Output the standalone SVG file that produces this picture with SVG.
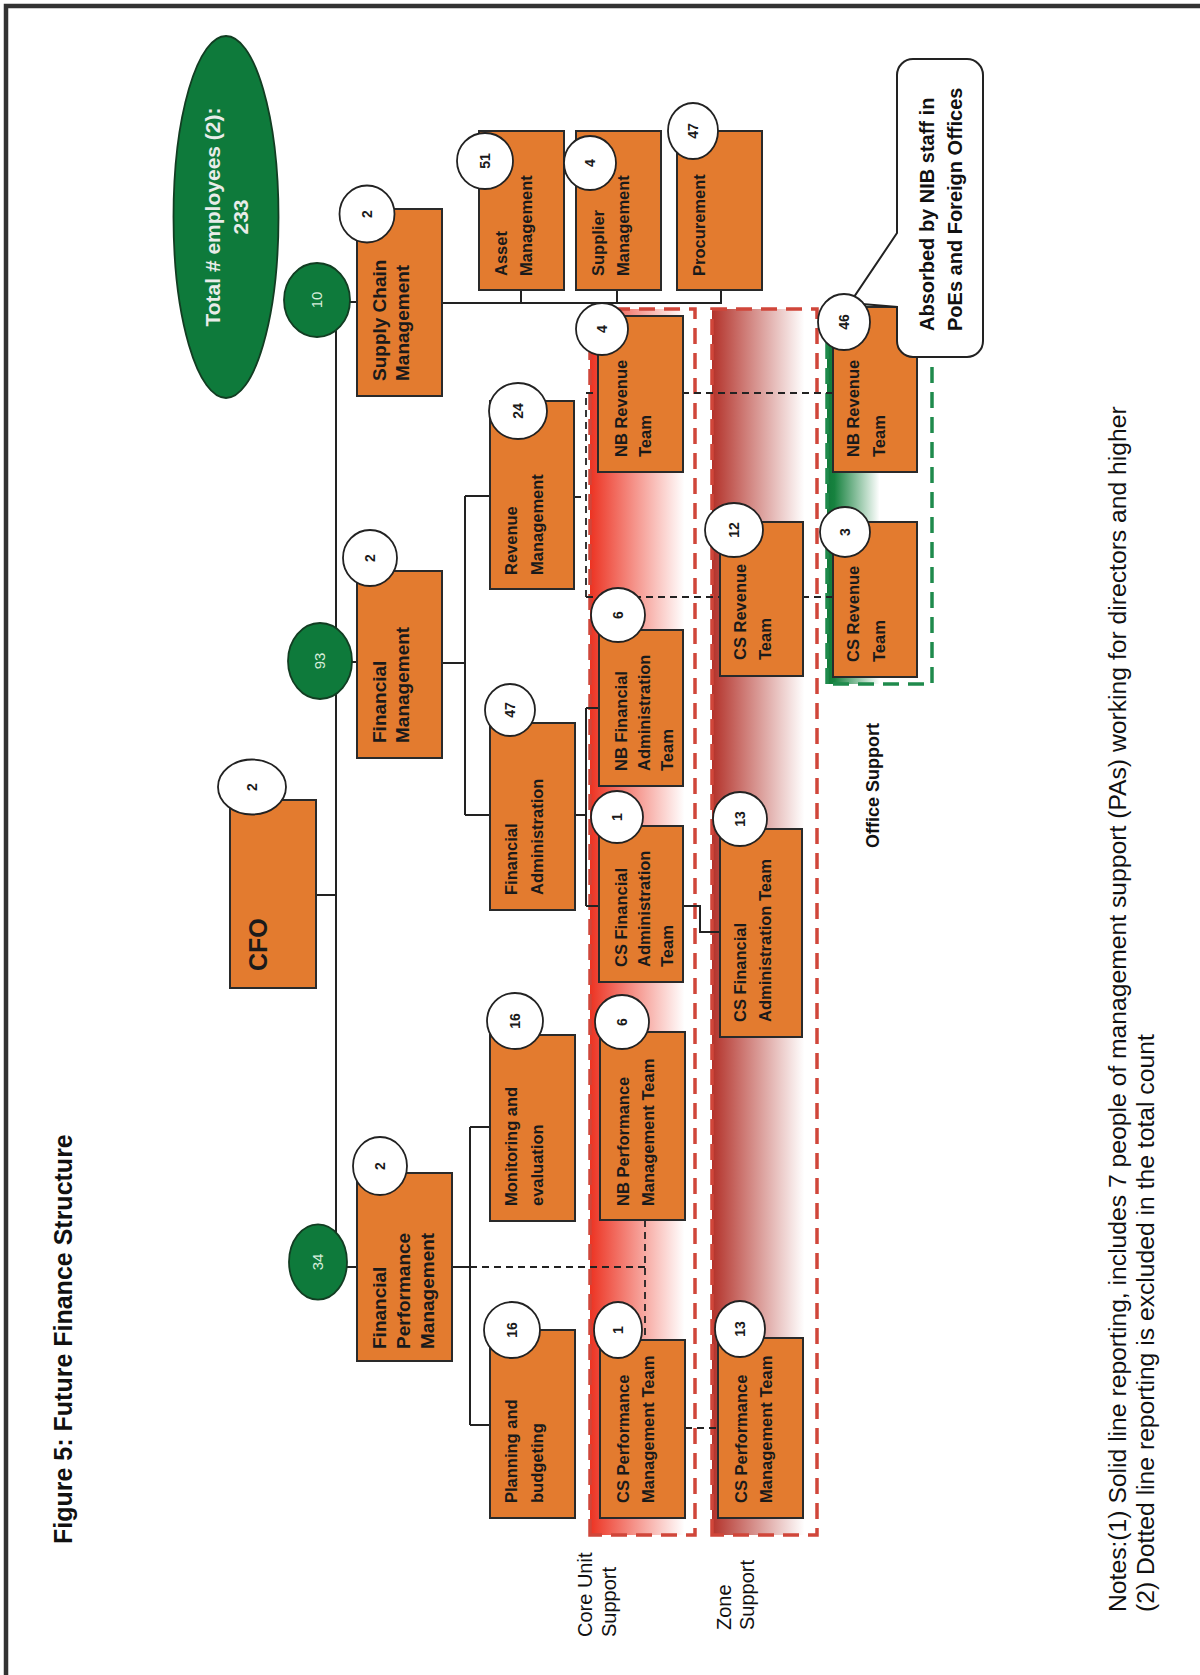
<svg xmlns="http://www.w3.org/2000/svg" width="1200" height="1675" viewBox="0 0 1200 1675">
<defs>
<style>
.bx{fill:#E37B2F;stroke:#2a2a2a;stroke-width:2}
.c{fill:#fff;stroke:#222;stroke-width:1.8}
.g{fill:#0E7A3B;stroke:#123d22;stroke-width:1.8}
.ln{stroke:#222;stroke-width:2;fill:none}
.dl{stroke:#222;stroke-width:1.8;fill:none;stroke-dasharray:7 5}
.t{font-family:"Liberation Sans",Arial,sans-serif;font-weight:bold;font-size:16.5px;fill:#1a1a1a}
.d{font-family:"Liberation Sans",Arial,sans-serif;font-weight:bold;font-size:19px;fill:#1a1a1a}
.n{font-family:"Liberation Sans",Arial,sans-serif;font-weight:bold;font-size:14px;fill:#1a1a1a;text-anchor:middle}
.gn{font-family:"Liberation Sans",Arial,sans-serif;font-size:15px;fill:#d8eedc;text-anchor:middle}
.lb{font-family:"Liberation Sans",Arial,sans-serif;font-size:20px;fill:#111}
.bandR{stroke:#d0463a;stroke-width:3.5;stroke-dasharray:16 9}
.bandG{stroke:#1f8a4c;stroke-width:3.5;stroke-dasharray:16 9}
</style>
<linearGradient id="gCore" x1="0" y1="0" x2="0" y2="1">
<stop offset="0" stop-color="#ec3322"/>
<stop offset="0.9" stop-color="#ffffff"/>
</linearGradient>
<linearGradient id="gZone" x1="0" y1="0" x2="0" y2="1">
<stop offset="0" stop-color="#b3322a"/>
<stop offset="0.88" stop-color="#ffffff"/>
</linearGradient>
<linearGradient id="gOff" x1="0" y1="0" x2="0" y2="1">
<stop offset="0" stop-color="#127a3a"/>
<stop offset="0.07" stop-color="#17823f"/>
<stop offset="0.5" stop-color="#ffffff"/>
</linearGradient>
</defs>
<rect width="1200" height="1675" fill="#fff"/>
<path d="M6 1675 V6 H1200" stroke="#333" stroke-width="4.5" fill="none"/>
<g transform="translate(0,1675) rotate(-90)">
<text x="131" y="72" font-family="Liberation Sans, Arial, sans-serif" font-weight="bold" font-size="25" fill="#111">Figure 5: Future Finance Structure</text>
<g id="bands">
<rect id="core-band" class="bandR" x="140" y="590" width="1226" height="105" fill="url(#gCore)"/>
<rect id="zone-band" class="bandR" x="140" y="712" width="1226" height="105" fill="url(#gZone)"/>
<rect id="office-band" class="bandG" x="991" y="827" width="381" height="105" fill="url(#gOff)"/>
</g>
<g id="connectors">
<path class="ln" d="M413 336 H1375 M780 316 V336 M1373 336 V357 M1013 336 V357 M408 336 V357"/>
<path class="ln" d="M1372 442 V722 M1372 521 H1385 M1372 617 H1385 M1372 721 H1385"/>
<path class="ln" d="M1012 442 V465 M860 465 H1179 M1179 465 V490 M860 465 V490"/>
<path class="ln" d="M408 452 V470 M250 470 H548 M548 470 V490 M250 470 V490"/>
<path class="ln" d="M860 575 V586 M769 586 H967 M967 586 V599 M769 586 V599"/>
<path class="ln" d="M769 683 V700 H743 V720"/>
<path class="dl" d="M408 470 V645 M340 645 H455"/>
<path class="dl" d="M1178 574 V586 M1078 586 H1282 M1282 586 V833 M1078 586 V833"/>
<path class="dl" d="M247 685 V718"/>
</g>
<g id="total">
<ellipse cx="1458" cy="226" rx="181" ry="52.5" class="g"/>
<text x="1458" y="220" text-anchor="middle" font-family="Liberation Sans, Arial, sans-serif" font-weight="bold" font-size="21" fill="#e9ece9">Total # employees (2):</text>
<text x="1458" y="248" text-anchor="middle" font-family="Liberation Sans, Arial, sans-serif" font-weight="bold" font-size="21" fill="#e9ece9">233</text>
</g>
<g id="cfo">
<rect class="bx" x="687" y="230" width="188" height="86"/>
<text x="704" y="267" font-family="Liberation Sans, Arial, sans-serif" font-weight="bold" font-size="25" fill="#1a1a1a">CFO</text>
<ellipse class="c" cx="888" cy="252" rx="27.5" ry="34"/>
<text class="n" x="888" y="257">2</text>
</g>
<g id="scm">
<rect class="bx" x="1279" y="357" width="187" height="85"/>
<text class="d" x="1294" y="386">Supply Chain</text>
<text class="d" x="1294" y="409">Management</text>
<ellipse class="c" cx="1461" cy="367" rx="28.5" ry="27.5"/>
<text class="n" x="1461" y="372">2</text>
<ellipse class="g" cx="1375" cy="317" rx="37" ry="33"/>
<text class="gn" x="1375" y="322">10</text>
</g>
<g id="fm">
<rect class="bx" x="917" y="357" width="187" height="85"/>
<text class="d" x="932" y="386">Financial</text>
<text class="d" x="932" y="409">Management</text>
<ellipse class="c" cx="1117" cy="370" rx="28" ry="27"/>
<text class="n" x="1117" y="375">2</text>
<ellipse class="g" cx="1014" cy="320" rx="38" ry="32"/>
<text class="gn" x="1014" y="325">93</text>
</g>
<g id="fpm">
<rect class="bx" x="314" y="357" width="188" height="95"/>
<text class="d" x="326" y="386">Financial</text>
<text class="d" x="326" y="410">Performance</text>
<text class="d" x="326" y="434">Management</text>
<ellipse class="c" cx="509" cy="380" rx="29" ry="27"/>
<text class="n" x="509" y="385">2</text>
<ellipse class="g" cx="413" cy="318" rx="37.6" ry="29"/>
<text class="gn" x="413" y="323">34</text>
</g>
<g id="asset">
<rect class="bx" x="1385" y="479" width="159" height="85"/>
<text class="t" x="1399" y="507">Asset</text>
<text class="t" x="1399" y="532">Management</text>
<ellipse class="c" cx="1514" cy="485" rx="28" ry="28"/>
<text class="n" x="1514" y="490">51</text>
</g>
<g id="supplier">
<rect class="bx" x="1385" y="576" width="159" height="85"/>
<text class="t" x="1399" y="604">Supplier</text>
<text class="t" x="1399" y="629">Management</text>
<ellipse class="c" cx="1512" cy="590" rx="27" ry="26"/>
<text class="n" x="1512" y="595">4</text>
</g>
<g id="procurement">
<rect class="bx" x="1385" y="677" width="159" height="85"/>
<text class="t" x="1399" y="705">Procurement</text>
<ellipse class="c" cx="1544" cy="693" rx="28" ry="25"/>
<text class="n" x="1544" y="698">47</text>
</g>
<g id="revenue-mgmt">
<rect class="bx" x="1086" y="490" width="188" height="84"/>
<text class="t" x="1100" y="517">Revenue</text>
<text class="t" x="1100" y="543">Management</text>
<ellipse class="c" cx="1264" cy="518" rx="28" ry="29"/>
<text class="n" x="1264" y="523">24</text>
</g>
<g id="fin-admin">
<rect class="bx" x="765" y="490" width="187" height="85"/>
<text class="t" x="780" y="517">Financial</text>
<text class="t" x="780" y="543">Administration</text>
<ellipse class="c" cx="965" cy="510" rx="26" ry="25"/>
<text class="n" x="965" y="515">47</text>
</g>
<g id="monitoring">
<rect class="bx" x="454" y="490" width="186" height="85"/>
<text class="t" x="469" y="517">Monitoring and</text>
<text class="t" x="469" y="543">evaluation</text>
<ellipse class="c" cx="654" cy="515" rx="28" ry="28"/>
<text class="n" x="654" y="520">16</text>
</g>
<g id="planning">
<rect class="bx" x="157" y="490" width="188" height="85"/>
<text class="t" x="172" y="517">Planning and</text>
<text class="t" x="172" y="543">budgeting</text>
<ellipse class="c" cx="345" cy="512" rx="28" ry="28"/>
<text class="n" x="345" y="517">16</text>
</g>
<g id="core-nb-revenue">
<rect class="bx" x="1203" y="598" width="156" height="85"/>
<text class="t" x="1218" y="627">NB Revenue</text>
<text class="t" x="1218" y="651">Team</text>
<ellipse class="c" cx="1346" cy="602" rx="26" ry="26"/>
<text class="n" x="1346" y="607">4</text>
</g>
<g id="core-nb-fa">
<rect class="bx" x="889" y="599" width="156" height="84"/>
<text class="t" x="904" y="627">NB Financial</text>
<text class="t" x="904" y="650">Administration</text>
<text class="t" x="904" y="673">Team</text>
<ellipse class="c" cx="1060" cy="618" rx="27" ry="27"/>
<text class="n" x="1060" y="623">6</text>
</g>
<g id="core-cs-fa">
<rect class="bx" x="693" y="599" width="156" height="84"/>
<text class="t" x="708" y="627">CS Financial</text>
<text class="t" x="708" y="650">Administration</text>
<text class="t" x="708" y="673">Team</text>
<ellipse class="c" cx="858" cy="617" rx="26" ry="26"/>
<text class="n" x="858" y="622">1</text>
</g>
<g id="core-nb-perf">
<rect class="bx" x="455" y="600" width="188" height="85"/>
<text class="t" x="469" y="629">NB Performance</text>
<text class="t" x="469" y="654">Management Team</text>
<ellipse class="c" cx="653" cy="622" rx="27" ry="27"/>
<text class="n" x="653" y="627">6</text>
</g>
<g id="core-cs-perf">
<rect class="bx" x="157" y="600" width="178" height="85"/>
<text class="t" x="172" y="629">CS Performance</text>
<text class="t" x="172" y="654">Management Team</text>
<ellipse class="c" cx="345" cy="618" rx="28" ry="24"/>
<text class="n" x="345" y="623">1</text>
</g>
<g id="zone-cs-perf">
<rect class="bx" x="157" y="718" width="180" height="85"/>
<text class="t" x="172" y="747">CS Performance</text>
<text class="t" x="172" y="772">Management Team</text>
<ellipse class="c" cx="346" cy="740" rx="28" ry="25"/>
<text class="n" x="346" y="745">13</text>
</g>
<g id="zone-cs-fa">
<rect class="bx" x="638" y="720" width="208" height="82"/>
<text class="t" x="653" y="746">CS Financial</text>
<text class="t" x="653" y="771">Administration  Team</text>
<ellipse class="c" cx="856" cy="740" rx="27" ry="27"/>
<text class="n" x="856" y="745">13</text>
</g>
<g id="zone-cs-rev">
<rect class="bx" x="999" y="720" width="154" height="83"/>
<text class="t" x="1015" y="746">CS Revenue</text>
<text class="t" x="1015" y="771">Team</text>
<ellipse class="c" cx="1145" cy="734" rx="27" ry="29"/>
<text class="n" x="1145" y="739">12</text>
</g>
<g id="office-cs-rev">
<rect class="bx" x="998" y="833" width="155" height="84"/>
<text class="t" x="1013" y="859">CS Revenue</text>
<text class="t" x="1013" y="885">Team</text>
<ellipse class="c" cx="1143" cy="845" rx="25" ry="25"/>
<text class="n" x="1143" y="850">3</text>
</g>
<g id="office-nb-rev">
<rect class="bx" x="1203" y="833" width="165" height="84"/>
<text class="t" x="1218" y="859">NB Revenue</text>
<text class="t" x="1218" y="885">Team</text>
</g>
<g id="callout">
<path d="M1334 897 H1368 L1372 850 L1442 897 H1600 A16 16 0 0 1 1616 913 V967 A16 16 0 0 1 1600 983 H1334 A16 16 0 0 1 1318 967 V913 A16 16 0 0 1 1334 897 Z" fill="#fff" stroke="#222" stroke-width="2"/>
<text x="1344" y="934" font-family="Liberation Sans, Arial, sans-serif" font-weight="bold" font-size="20" fill="#111">Absorbed by NIB staff in</text>
<text x="1344" y="962" font-family="Liberation Sans, Arial, sans-serif" font-weight="bold" font-size="20" fill="#111">PoEs and Foreign Offices</text>
</g>
<g id="office-nb-rev-count">
<ellipse class="c" cx="1353" cy="844" rx="28" ry="26"/>
<text class="n" x="1353" y="849">46</text>
</g>
<g id="labels">
<text class="lb" x="38" y="592">Core Unit</text>
<text class="lb" x="38" y="616">Support</text>
<text class="lb" x="45" y="731">Zone</text>
<text class="lb" x="45" y="754">Support</text>
<text x="827" y="879" font-family="Liberation Sans, Arial, sans-serif" font-weight="bold" font-size="18" fill="#111">Office Support</text>
</g>
<g id="notes" font-family="Liberation Sans, Arial, sans-serif" font-size="24.7" fill="#111">
<text x="63" y="1126">Notes:(1) Solid line reporting, includes 7 people of management support (PAs) working for directors and higher</text>
<text x="63" y="1154">(2) Dotted line reporting is excluded in the total count</text>
</g>
</g>
</svg>
